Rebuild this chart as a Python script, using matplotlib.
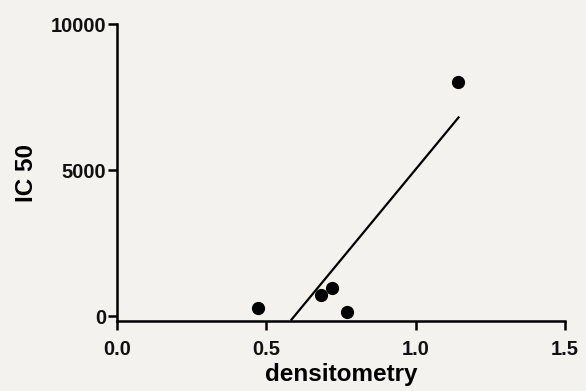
import numpy as np
import matplotlib.pyplot as plt

densitometry = [0.473, 0.682, 0.719, 0.769, 1.143]
ic50 = [270, 720, 950, 150, 8020]

# regression line end points as drawn in the reference
fit_x = [0.582, 1.146]
fit_y = [-150, 6830]

x_ticks = [0.0, 0.5, 1.0, 1.5]
x_tick_labels = ['0.0', '0.5', '1.0', '1.5']
y_ticks = [0, 5000, 10000]
y_tick_labels = ['0', '5000', '10000']

BG = '#f4f2ef'

plt.rcParams['font.family'] = ['Liberation Sans', 'DejaVu Sans']
plt.rcParams['font.weight'] = 'bold'

fig = plt.figure(figsize=(5.86, 3.91), dpi=100, facecolor=BG)
ax = fig.add_axes([117 / 586, 70 / 391, 448 / 586, 297 / 391])
ax.set_facecolor(BG)

ax.plot(fit_x, fit_y, color='black', linewidth=1.6, solid_capstyle='butt')
ax.plot(densitometry, ic50, 'o', color='black', markersize=8.5)

ax.set_xlim(0, 1.5)
ax.set_ylim(-170, 10000)

ax.spines['top'].set_visible(False)
ax.spines['right'].set_visible(False)
for side in ['left', 'bottom']:
    ax.spines[side].set_linewidth(1.8)

ax.set_xticks(x_ticks)
ax.set_xticklabels(x_tick_labels)
ax.set_yticks(y_ticks)
ax.set_yticklabels(y_tick_labels)
ax.tick_params(axis='both', direction='out', length=6.5, width=1.8,
               labelsize=14.5, color='black', labelcolor='#111111')
ax.tick_params(axis='x', pad=7)
ax.tick_params(axis='y', pad=1.5)

ax.set_xlabel('densitometry', fontsize=17.5, fontweight='bold', labelpad=3)
ax.set_ylabel('IC 50', fontsize=17.5, fontweight='bold', labelpad=9)

fig.savefig('out.png', dpi=100, facecolor=BG)
